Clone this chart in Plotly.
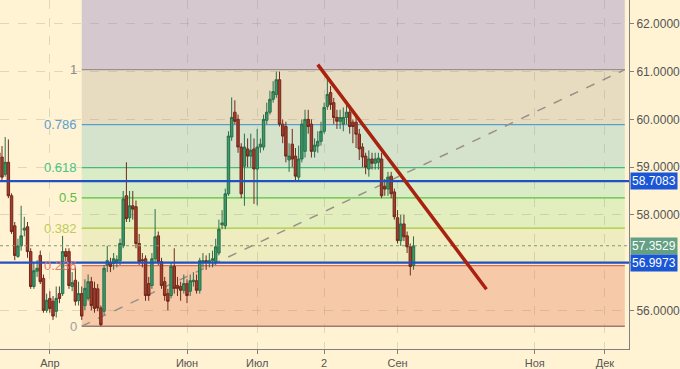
import plotly.graph_objects as go
import pandas as pd

# ---------------- data ----------------
dates = pd.bdate_range("2017-03-10", "2017-09-08")

opens = [59.30, 59.21, 58.85, 59.10, 58.40, 57.77, 57.13, 57.35, 57.68, 57.75,
         57.23, 56.50, 56.82, 57.15, 56.67, 56.00, 56.25, 56.19, 55.98, 56.35,
         56.35, 57.23, 57.23, 56.50, 56.63, 56.20, 56.35, 56.10, 56.25, 56.60,
         56.46, 56.45, 56.05, 55.98, 56.95, 57.00, 56.98, 57.00, 57.04, 57.35,
         58.40, 57.94, 58.19, 58.17, 57.40, 57.06, 57.08, 56.56, 56.52, 57.08,
         57.56, 57.02, 56.60, 56.35, 56.31, 56.92, 56.52, 56.50, 56.42, 56.56,
         56.40, 56.60, 56.62, 56.42, 57.00, 57.04, 57.00, 57.04, 57.02, 57.20,
         57.79, 57.77, 58.44, 59.63, 60.15, 60.00, 59.42, 59.02, 59.38, 59.23,
         59.38, 58.96, 59.42, 59.42, 59.98, 60.15, 60.42, 60.52, 60.83, 59.90,
         59.85, 59.15, 59.48, 59.23, 58.79, 59.17, 59.33, 60.00, 59.90, 59.33,
         59.44, 59.54, 59.75, 60.27, 60.56, 60.35, 60.04, 59.96, 59.90, 60.04,
         60.15, 59.94, 59.94, 59.69, 59.42, 59.23, 58.96, 59.17, 59.08, 59.10,
         59.17, 58.60, 58.54, 58.81, 58.48, 57.94, 57.46, 57.81, 57.56, 57.33,
         56.94]
highs = [59.45, 59.44, 59.63, 59.58, 58.45, 57.85, 57.50, 58.19, 57.96, 57.85,
         57.30, 57.00, 57.05, 57.25, 56.75, 56.35, 56.40, 56.30, 56.50, 56.50,
         57.56, 57.30, 57.30, 56.80, 56.90, 56.60, 56.50, 56.65, 56.75, 56.70,
         56.60, 56.55, 56.10, 56.95, 57.35, 57.10, 57.20, 57.15, 57.50, 58.50,
         59.10, 58.50, 58.50, 58.30, 57.60, 57.20, 57.15, 56.70, 57.20, 58.12,
         57.65, 57.10, 56.70, 56.45, 57.00, 57.30, 56.70, 56.60, 56.75, 56.65,
         56.75, 56.80, 56.75, 57.10, 57.20, 57.15, 57.20, 57.25, 57.50, 57.90,
         58.10, 58.55, 59.75, 60.46, 60.40, 60.10, 59.50, 59.70, 59.60, 59.70,
         59.60, 59.80, 59.60, 60.10, 60.35, 60.60, 60.80, 61.00, 61.00, 60.00,
         59.95, 59.50, 59.80, 59.40, 59.45, 60.00, 60.20, 60.20, 60.00, 59.60,
         59.75, 59.95, 60.35, 60.85, 60.70, 60.45, 60.20, 60.20, 60.25, 60.30,
         60.30, 60.00, 60.05, 59.80, 59.50, 59.30, 59.35, 59.30, 59.30, 59.30,
         59.30, 58.75, 58.90, 58.90, 58.55, 58.10, 58.00, 58.00, 57.65, 57.40,
         57.55]
lows = [59.10, 58.71, 58.80, 58.35, 57.60, 57.05, 57.10, 57.25, 57.55, 57.10,
        56.45, 56.45, 56.70, 56.55, 55.95, 55.95, 55.95, 55.80, 55.85, 56.15,
        56.30, 57.00, 56.45, 56.40, 56.10, 56.10, 55.80, 56.00, 56.20, 56.00,
        55.95, 55.98, 55.67, 55.90, 56.80, 56.80, 56.85, 56.90, 56.95, 57.30,
        57.85, 57.85, 57.90, 57.30, 56.95, 56.90, 56.20, 56.20, 56.45, 57.00,
        56.95, 56.45, 56.20, 56.00, 56.25, 56.35, 56.30, 56.20, 56.35, 56.15,
        56.30, 56.50, 56.35, 56.35, 56.90, 56.85, 56.90, 56.90, 56.95, 57.15,
        57.70, 57.70, 58.40, 59.55, 59.90, 59.30, 58.35, 58.19, 59.00, 59.00,
        58.23, 58.20, 59.30, 59.35, 59.90, 60.10, 60.35, 60.45, 59.85, 59.50,
        59.10, 58.90, 59.00, 58.70, 58.70, 59.10, 59.20, 59.70, 59.20, 59.20,
        59.30, 59.45, 59.70, 60.20, 60.20, 59.90, 59.80, 59.80, 59.75, 59.90,
        59.70, 59.50, 59.40, 59.15, 59.00, 58.85, 58.80, 58.95, 58.95, 58.95,
        58.35, 58.40, 58.40, 58.35, 57.90, 57.40, 57.35, 57.45, 57.20, 56.73,
        56.85]
closes = [59.22, 58.79, 59.10, 58.40, 57.65, 57.15, 57.35, 57.56, 57.72, 57.23,
          56.50, 56.83, 56.88, 56.60, 56.00, 56.21, 56.04, 55.88, 56.25, 56.25,
          57.23, 57.13, 56.52, 56.58, 56.19, 56.35, 55.88, 56.46, 56.60, 56.10,
          56.04, 56.05, 55.70, 56.88, 57.04, 56.92, 57.08, 57.06, 57.40, 58.33,
          57.92, 58.19, 58.12, 57.40, 57.02, 57.04, 56.31, 56.31, 57.08, 57.54,
          57.02, 56.52, 56.31, 56.19, 56.92, 56.46, 56.46, 56.42, 56.56, 56.31,
          56.62, 56.63, 56.42, 57.04, 57.04, 57.00, 57.04, 57.08, 57.33, 57.70,
          57.83, 58.44, 59.65, 60.04, 59.96, 59.42, 58.44, 59.42, 59.23, 59.35,
          58.96, 59.42, 59.48, 60.00, 60.15, 60.42, 60.58, 60.83, 59.90, 59.65,
          59.23, 59.23, 59.17, 58.81, 59.17, 59.90, 60.00, 59.85, 59.33, 59.46,
          59.54, 59.75, 60.25, 60.52, 60.31, 60.04, 59.96, 60.04, 60.04, 60.15,
          59.85, 59.85, 59.69, 59.38, 59.21, 59.00, 59.17, 59.08, 59.17, 59.19,
          58.40, 58.54, 58.79, 58.44, 57.96, 57.46, 57.81, 57.54, 57.33, 56.92,
          57.35]

x_tick_vals = ["2017-04-03", "2017-06-01", "2017-07-03", "2017-08-01",
               "2017-09-01", "2017-11-01", "2017-12-01"]
x_tick_text = ["Апр", "Июн", "Июл", "2", "Сен", "Ноя", "Дек"]
y_tick_vals = [56, 57, 58, 59, 60, 61, 62]
y_tick_text = ["56.0000", "", "58.0000", "59.0000", "60.0000", "61.0000", "62.0000"]

fib_low = 55.667
fib_high = 61.042
fib_ratios = [0, 0.236, 0.382, 0.5, 0.618, 0.786, 1]
fib_labels = ["0", "0.236", "0.382", "0.5", "0.618", "0.786", "1"]
fib_start = "2017-04-17"
fib_end = "2017-12-11 06:00"

blue_levels = [58.7083, 56.9973]
last_price = 57.3529
trend_x = ["2017-07-28", "2017-10-10 21:00"]
trend_y = [61.146, 56.44]

x_range = ["2017-03-10 09:00", "2017-12-12 13:30"]
y_range = [55.19, 62.5]

# ---------------- styles ----------------
BG = "#fff3d3"
band_colors = ["#f6caa9", "#efecbf", "#e3eebf", "#d9ecc6", "#d5e3cd", "#e8dcc0", "#d5c9cf"]
line_colors = ["#a07a70", "#e06a5a", "#a8c83c", "#5cc040", "#3cc07a", "#5a9ed0", "#9a9090"]
label_colors = ["#a0a0a0", "#e87868", "#bccc58", "#58c040", "#48c488", "#5aa0d0", "#8a8a8a"]
FONT = "Liberation Sans, Arial, sans-serif"

fig = go.Figure()
fig.add_trace(go.Candlestick(
    x=dates, open=opens, high=highs, low=lows, close=closes,
    increasing=dict(line=dict(color="#2a6e4a", width=1), fillcolor="#3a9a68"),
    decreasing=dict(line=dict(color="#6e2a1c", width=1), fillcolor="#a83a2a"),
    whiskerwidth=0, showlegend=False, hoverinfo="x+y",
))

shapes = []
levels = [fib_low + r * (fib_high - fib_low) for r in fib_ratios]
tops = levels[1:] + [y_range[1]]
for lo, hi, col in zip(levels, tops, band_colors):
    shapes.append(dict(type="rect", xref="x", yref="y", x0=fib_start, x1=fib_end,
                       y0=lo, y1=hi, fillcolor=col, line=dict(width=0), layer="below"))
for lv, col in zip(levels, line_colors):
    shapes.append(dict(type="line", xref="x", yref="y", x0=fib_start, x1=fib_end,
                       y0=lv, y1=lv, line=dict(color=col, width=1.3), layer="below"))
shapes.append(dict(type="line", xref="x", yref="y", x0=fib_start, x1=fib_end,
                   y0=fib_low, y1=fib_high, line=dict(color="#9a9088", width=1.5, dash="dash"),
                   layer="below"))
shapes.append(dict(type="line", xref="paper", yref="y", x0=0, x1=1, y0=last_price, y1=last_price,
                   line=dict(color="#7f9a72", width=1, dash="dot"), layer="above"))
for lv in blue_levels:
    shapes.append(dict(type="line", xref="paper", yref="y", x0=0, x1=1, y0=lv, y1=lv,
                       line=dict(color="#2150c4", width=2.2), layer="above"))
shapes.append(dict(type="line", xref="x", yref="y", x0=trend_x[0], x1=trend_x[1],
                   y0=trend_y[0], y1=trend_y[1], line=dict(color="#a8220f", width=3.5),
                   layer="above"))

annotations = []
for lv, txt, col in zip(levels, fib_labels, label_colors):
    annotations.append(dict(x=fib_start, y=lv, xref="x", yref="y", text=txt, showarrow=False,
                            xanchor="right", yanchor="middle", xshift=-3,
                            font=dict(family=FONT, size=13, color=col)))
for lv, bg in [(blue_levels[0], "#1a56d6"), (last_price, "#63a084"), (blue_levels[1], "#1a56d6")]:
    annotations.append(dict(x=1, y=lv, xref="paper", yref="y", text=f"{lv:.4f}", showarrow=False,
                            xanchor="left", yanchor="middle", xshift=1,
                            bgcolor=bg, borderpad=1,
                            font=dict(family=FONT, size=12, color="white")))

fig.update_layout(
    width=680, height=369,
    margin=dict(l=0, r=49, t=0, b=18),
    paper_bgcolor=BG, plot_bgcolor=BG,
    boxgap=0.1, boxgroupgap=0.15,
    shapes=shapes, annotations=annotations,
    font=dict(family=FONT, size=11, color="#505050"),
    showlegend=False,
    xaxis=dict(
        type="date", range=x_range, rangebreaks=[dict(bounds=["sat", "mon"])],
        rangeslider=dict(visible=False),
        tickvals=x_tick_vals, ticktext=x_tick_text,
        showgrid=True, gridcolor="rgba(150,140,120,0.28)", griddash="dash",
        ticks="outside", ticklen=4, tickcolor="#808080",
        showline=True, linecolor="#808080", linewidth=1,
        tickfont=dict(size=11, color="#555555"), zeroline=False,
    ),
    yaxis=dict(
        side="right", range=y_range,
        tickvals=y_tick_vals, ticktext=y_tick_text,
        showgrid=True, gridcolor="rgba(150,140,120,0.28)", griddash="dash",
        ticks="outside", ticklen=4, tickcolor="#808080",
        showline=True, linecolor="#808080", linewidth=1,
        tickfont=dict(size=12, color="#555555"), zeroline=False,
    ),
)

fig.write_html("out.html")
